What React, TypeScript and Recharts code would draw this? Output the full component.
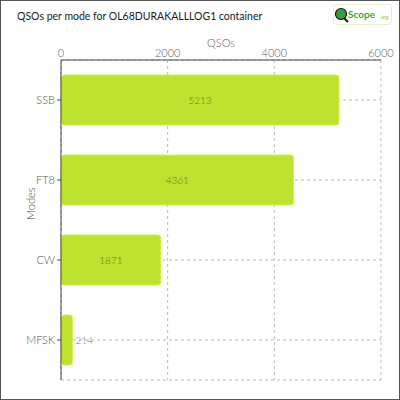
import { BarChart, Bar, XAxis, YAxis, CartesianGrid, LabelList } from "recharts";

const modes = ["SSB", "FT8", "CW", "MFSK"];
const qsos = [5213, 4361, 1871, 214];
const xTicks = [0, 2000, 4000, 6000];

const data = modes.map((m, i) => ({ mode: m, qsos: qsos[i] }));

const font = "Lato, 'Open Sans', sans-serif";

function ValueLabel(props: any) {
  const { x, y, width, height, value } = props;
  const inside = width > 40;
  return (
    <text
      x={inside ? x + width / 2 : x + width + 3}
      y={y + height / 2}
      dy={4}
      textAnchor={inside ? "middle" : "start"}
      fontSize={10}
      fontWeight={300}
      fontFamily={font}
      fill={inside ? "#5e7d22" : "#5f8b90"}
    >
      {value}
    </text>
  );
}

function Logo() {
  return (
    <svg width={60} height={22} style={{ position: "absolute", left: 332, top: 3 }}>
      <rect x={0.5} y={0.5} width={58} height={20} rx={3} fill="#fff" stroke="#e4efc8" />
      <line x1={10} y1={13} x2={15} y2={18} stroke="#111" strokeWidth={2} />
      <circle cx={8} cy={10} r={5.5} fill="#3b9a3b" stroke="#111" strokeWidth={1.2} />
      <text x={15} y={14} fontSize={10} fontWeight={700} fontFamily={font} fill="#3aa53a">
        Scope
      </text>
      <text x={47} y={15} fontSize={5} fontFamily={font} fill="#8bc34a">
        .org
      </text>
    </svg>
  );
}

export default function App() {
  return (
    <div
      style={{
        position: "absolute",
        left: 0,
        top: 0,
        width: 398,
        height: 398,
        border: "1px solid #555",
        background: "#fff",
        fontFamily: font,
      }}
    >
      <div
        style={{
          position: "absolute",
          left: 16,
          top: 9,
          fontSize: 10.5,
          color: "#1a1a1a",
          whiteSpace: "nowrap",
        }}
      >
        QSOs per mode for OL68DURAKALLLOG1 container
      </div>
      <Logo />
      <div style={{ position: "absolute", left: -1, top: -1 }}>
        <BarChart
          width={400}
          height={400}
          data={data}
          layout="vertical"
          margin={{ top: 20, right: 19, bottom: 20, left: 10 }}
          barCategoryGap={15}
        >
          <CartesianGrid strokeDasharray="3 3" stroke="#bbb" />
          <XAxis
            type="number"
            orientation="top"
            domain={[0, 6000]}
            ticks={xTicks}
            height={40}
            stroke="#444"
            tickLine={false}
            tickSize={0}
            tickMargin={3}
            tick={{ fontSize: 11, fill: "#666", fontFamily: font, fontWeight: 300 }}
            label={{ value: "QSOs", position: "insideTop", offset: 19, fontSize: 11, fill: "#666", fontFamily: font, fontWeight: 300 }}
          />
          <YAxis
            type="category"
            dataKey="mode"
            width={51}
            stroke="#444"
            tick={{ fontSize: 11, fill: "#555", fontFamily: font, fontWeight: 300 }}
            tickSize={4}
            label={{ value: "Modes", angle: -90, position: "insideLeft", offset: 21, fontSize: 11, fill: "#444", fontFamily: font, fontWeight: 300 }}
          />
          <Bar
            dataKey="qsos"
            fill="#bde22f"
            stroke="#d2ef4f"
            strokeWidth={1}
            radius={3}
            isAnimationActive={false}
          >
            <LabelList dataKey="qsos" content={ValueLabel} />
          </Bar>
        </BarChart>
      </div>
    </div>
  );
}
